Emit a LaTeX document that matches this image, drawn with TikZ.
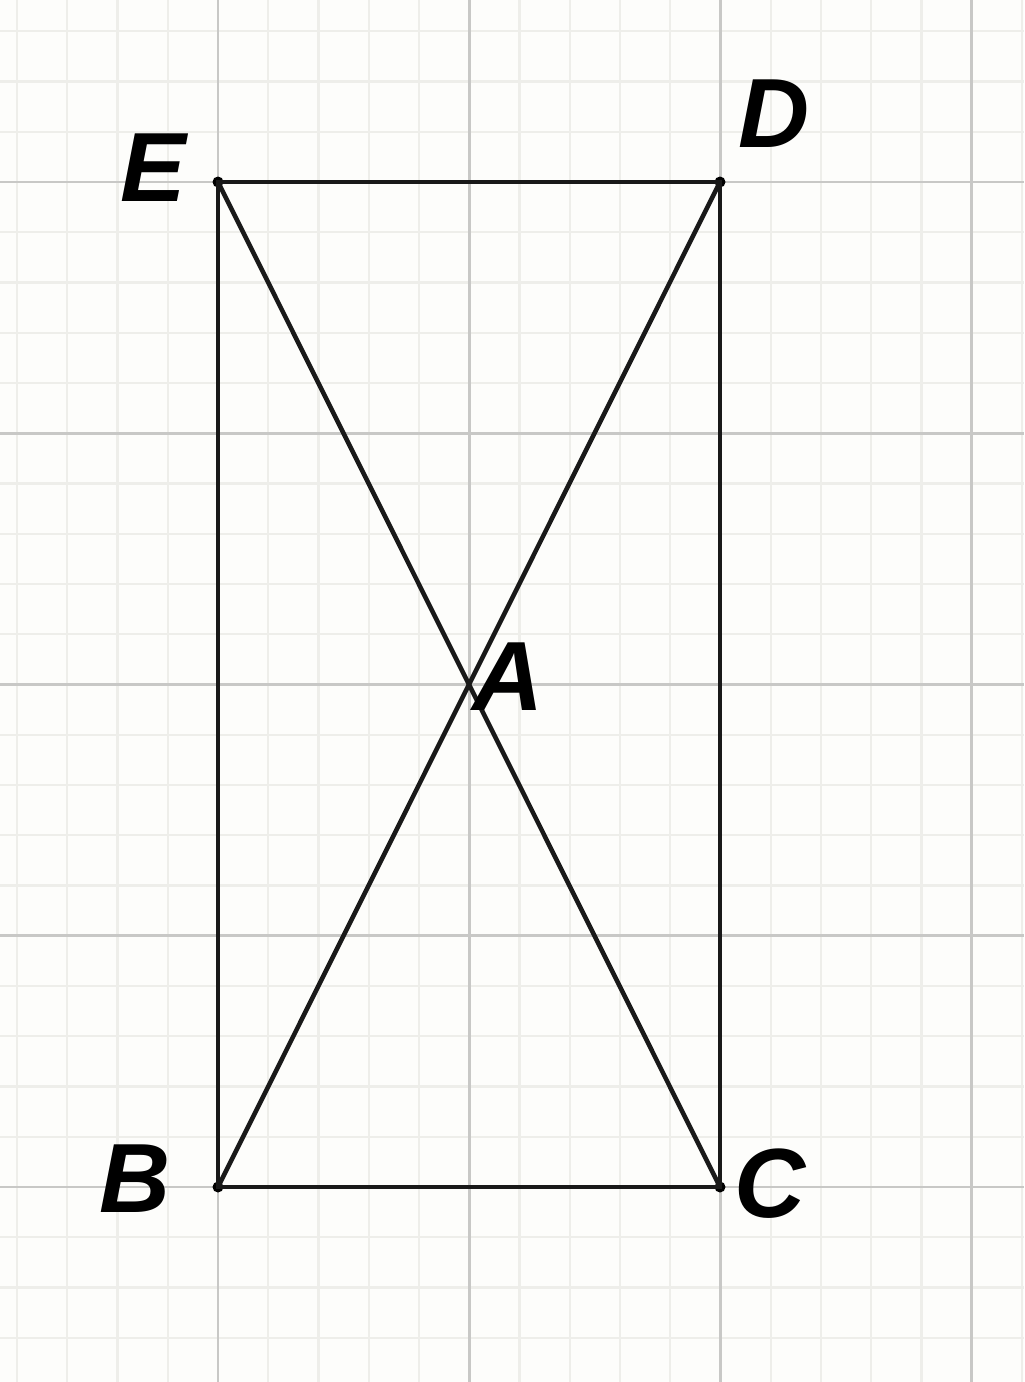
\documentclass[tikz,border=0pt]{standalone}
\usepackage{fontspec}
\setmainfont{Liberation Sans}
\begin{document}
\begin{tikzpicture}[x=0.02cm,y=-0.02cm]
\definecolor{bgc}{HTML}{FDFDFB}
\definecolor{minorc}{HTML}{EEEEEA}
\definecolor{majorc}{HTML}{C8C8C6}
\tikzset{
  minorline/.style={draw=minorc,line width=1.4pt},
  majorline/.style={draw=majorc,line width=1.6pt},
  edge/.style={draw=black!90,line width=2.6pt},
  pt/.style={circle,fill=black,inner sep=0pt,minimum size=0.22cm},
  lbl/.style={anchor=base,inner sep=0pt,font=\fontsize{56}{60}\selectfont\bfseries\itshape}
}
\useasboundingbox (0,0) rectangle (1024,1382);
\fill[bgc] (0,0) rectangle (1024,1382);
% minor grid
\foreach \i in {0,...,20} {
  \draw[minorline] ({17+\i*50.25},0) -- ({17+\i*50.25},1382);
}
\foreach \i in {0,...,27} {
  \draw[minorline] (0,{31.25+\i*50.25}) -- (1024,{31.25+\i*50.25});
}
% major grid
\foreach \i in {0,...,3} {
  \draw[majorline] ({218+\i*251.25},0) -- ({218+\i*251.25},1382);
}
\foreach \i in {0,...,4} {
  \draw[majorline] (0,{182+\i*251.25}) -- (1024,{182+\i*251.25});
}
% points
\node[pt] (E) at (218,182) {};
\node[pt] (D) at (720,182) {};
\node[pt] (B) at (218,1187) {};
\node[pt] (C) at (720,1187) {};
\coordinate (A) at (469,684.5);
% edges
\draw[edge] (E.center) -- (D.center) -- (C.center) -- (B.center) -- cycle;
\draw[edge] (E.center) -- (C.center);
\draw[edge] (D.center) -- (B.center);
% labels
\node[lbl] (lE) at (153,202) {E};
\node[lbl] (lD) at (774,148) {D};
\node[lbl] (lA) at (508,710) {A};
\node[lbl] (lB) at (135,1212) {B};
\node[lbl] (lC) at (770,1217) {C};
\end{tikzpicture}
\end{document}
